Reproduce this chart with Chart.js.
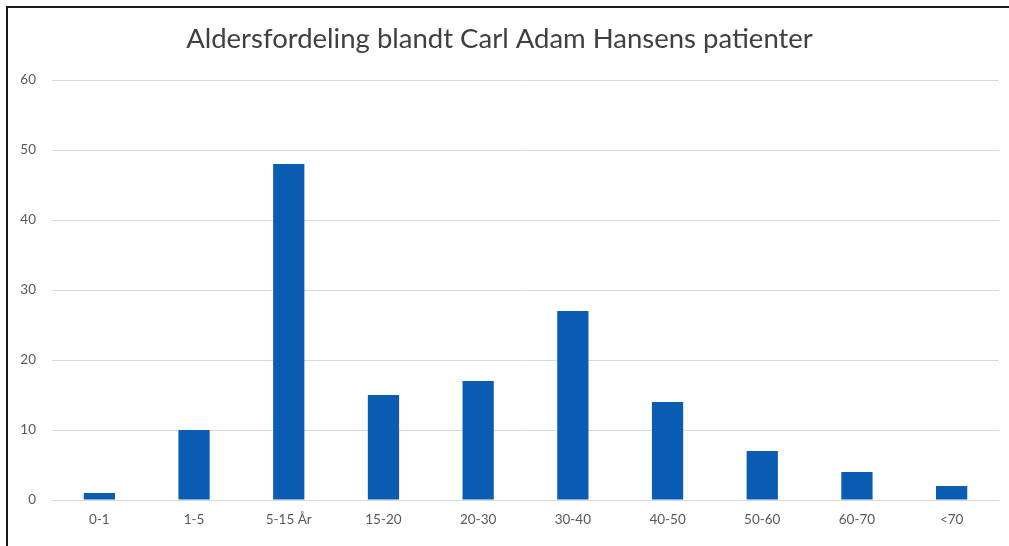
<!DOCTYPE html>
<html>
<head>
<meta charset="utf-8">
<script src="https://cdn.jsdelivr.net/npm/chart.js@4"></script>
<style>
  html, body { margin: 0; padding: 0; background: #fff; overflow: hidden; }
  #wrap { position: relative; width: 1009px; height: 546px; overflow: hidden; }
  #frameTop { position: absolute; left: 6px; top: 6px; width: 1003px; height: 2px; background: #1a1a1a; }
  #frameLeft { position: absolute; left: 6px; top: 6px; width: 2px; height: 540px; background: #1a1a1a; }
  canvas { position: absolute; left: 0; top: 0; }
</style>
</head>
<body>
<div id="wrap">
  <canvas id="c" width="1009" height="546"></canvas>
  <div id="frameTop"></div>
  <div id="frameLeft"></div>
</div>
<script>
const categories = ['0-1', '1-5', '5-15 År', '15-20', '20-30', '30-40', '40-50', '50-60', '60-70', '<70'];
const patients = [1, 10, 48, 15, 17, 27, 14, 7, 4, 2];
const yTicks = [0, 10, 20, 30, 40, 50, 60];
const titleText = 'Aldersfordeling blandt Carl Adam Hansens patienter';

new Chart(document.getElementById('c'), {
  type: 'bar',
  data: {
    labels: categories,
    datasets: [{
      data: patients,
      backgroundColor: '#0b5db3',
      borderWidth: 0,
      categoryPercentage: 1,
      barPercentage: 0.33
    }]
  },
  options: {
    responsive: false,
    animation: false,
    layout: { padding: { left: 0, right: 10, top: 0, bottom: 0 } },
    plugins: {
      legend: { display: false },
      tooltip: { enabled: false },
      title: {
        display: true,
        text: titleText,
        color: '#404040',
        font: { family: 'Lato', size: 27.5, weight: 'normal' },
        padding: { top: 23, bottom: 24 }
      }
    },
    scales: {
      x: {
        grid: { display: false, drawTicks: false },
        border: { display: false },
        ticks: { color: '#595959', font: { family: 'Lato', size: 13.5 }, padding: 12 },
        afterFit: s => { s.height = 46; }
      },
      y: {
        min: 0, max: 60,
        afterBuildTicks: s => { s.ticks = yTicks.map(v => ({ value: v })); },
        grid: { color: '#d9d9d9', lineWidth: 1, drawTicks: false },
        border: { display: false },
        ticks: { color: '#595959', font: { family: 'Lato', size: 13.5 }, padding: 16 },
        afterFit: s => { s.width = 52; }
      }
    }
  }
});
</script>
</body>
</html>
